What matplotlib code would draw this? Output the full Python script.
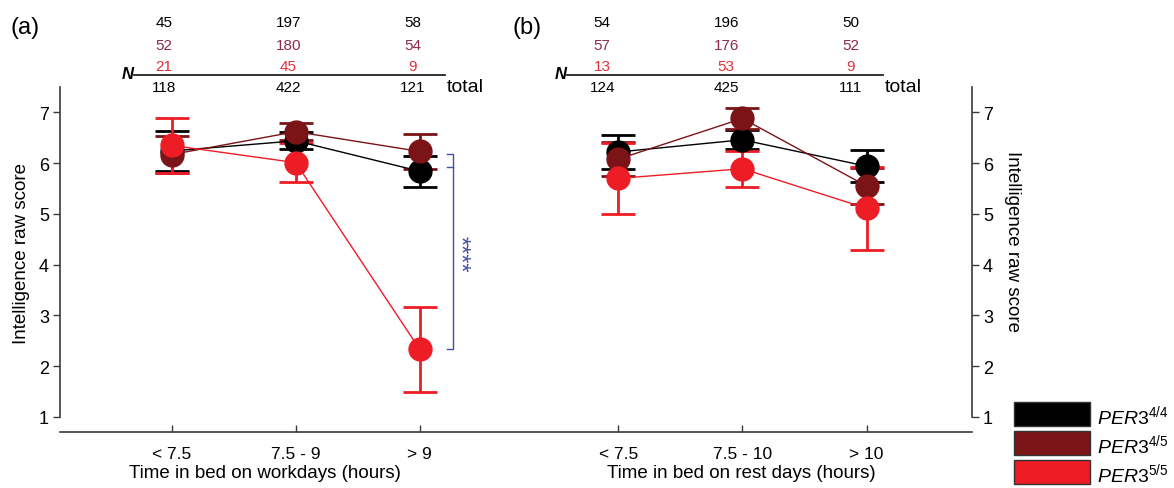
import numpy as np
import matplotlib
matplotlib.use("Agg")
import matplotlib.pyplot as plt
from matplotlib import transforms
from matplotlib.patches import Rectangle

plt.rcParams['font.family'] = ['Liberation Sans', 'DejaVu Sans']
plt.rcParams['mathtext.fontset'] = 'custom'
plt.rcParams['mathtext.it'] = 'Liberation Sans:italic'
plt.rcParams['mathtext.rm'] = 'Liberation Sans'

# ---- data ----
legend_labels = [r'$\mathit{PER3}^{\mathit{4/4}}$', r'$\mathit{PER3}^{\mathit{4/5}}$',
                 r'$\mathit{PER3}^{\mathit{5/5}}$']
colors = ['#000000', '#7a1417', '#ee1c25']
n_colors = ['#000000', '#8e2a50', '#e2303c']

work_labels = ['< 7.5', '7.5 - 9', '> 9']
rest_labels = ['< 7.5', '7.5 - 10', '> 10']

# panel (a): workdays
work_mean = {
    'PER3_44': [6.24, 6.44, 5.84],
    'PER3_45': [6.17, 6.62, 6.23],
    'PER3_55': [6.35, 6.01, 2.33],
}
work_err = {
    'PER3_44': [0.40, 0.17, 0.30],
    'PER3_45': [0.36, 0.17, 0.34],
    'PER3_55': [0.54, 0.38, 0.83],
}
# panel (b): rest days
rest_mean = {
    'PER3_44': [6.22, 6.46, 5.94],
    'PER3_45': [6.08, 6.88, 5.55],
    'PER3_55': [5.70, 5.89, 5.11],
}
rest_err = {
    'PER3_44': [0.34, 0.19, 0.31],
    'PER3_45': [0.34, 0.20, 0.36],
    'PER3_55': [0.70, 0.35, 0.82],
}

work_n = [[45, 197, 58], [52, 180, 54], [21, 45, 9]]
work_total = [118, 422, 121]
rest_n = [[54, 196, 50], [57, 176, 52], [13, 53, 9]]
rest_total = [124, 425, 111]

keys = ['PER3_44', 'PER3_45', 'PER3_55']

# x positions of the categories on one shared axis
xa = np.array([0.0, 1.0, 2.0])
xb = np.array([3.6, 4.6, 5.6])

fig = plt.figure(figsize=(11.74, 4.89), dpi=100)
ax = fig.add_axes([60 / 1174, 1 - 418 / 489, 912 / 1174, 330 / 489])

spine_col = '#3a3a3a'
for xs, means, errs in [(xa, work_mean, work_err), (xb, rest_mean, rest_err)]:
    for k, c in zip(keys, colors):
        ax.errorbar(xs, means[k], yerr=errs[k], color=c, ecolor=c, lw=1.0,
                    elinewidth=2.0, capsize=12.5, capthick=2.0, marker='o',
                    markersize=16.5, markeredgecolor=c, zorder=3)

ax.set_xlim(-0.9, 6.45)
ax.set_ylim(1, 7.5)
ax.spines['top'].set_visible(False)
ax.spines['bottom'].set_position(('outward', 11))
for s in ['left', 'right', 'bottom']:
    ax.spines[s].set_color(spine_col)
    ax.spines[s].set_linewidth(1.2)
ax.tick_params(axis='y', direction='out', length=5, width=1, color=spine_col,
               labelsize=13, left=True, right=True, labelleft=True, labelright=True, pad=3)
ax.tick_params(axis='x', direction='in', length=5, width=1, color=spine_col, pad=10,
               labelsize=12.5)
ax.set_yticks(range(1, 8))
ax.set_xticks(np.concatenate([xa, xb]))
ax.set_xticklabels(work_labels + rest_labels)
ax.set_ylabel('Intelligence raw score', fontsize=13.5, labelpad=6)

fig.text(1013 / 1174, 1 - 242 / 489, 'Intelligence raw score', rotation=270,
         fontsize=13.5, ha='center', va='center')

# x axis titles
fig.text(265 / 1174, 1 - 474 / 489, 'Time in bed on workdays (hours)', fontsize=13.5,
         ha='center', va='center')
fig.text(741 / 1174, 1 - 474 / 489, 'Time in bed on rest days (hours)', fontsize=13.5,
         ha='center', va='center')

# panel labels
fig.text(10 / 1174, 1 - 28 / 489, '(a)', fontsize=17, va='center')
fig.text(512 / 1174, 1 - 28 / 489, '(b)', fontsize=17, va='center')

# N tables above each panel
tr = transforms.blended_transform_factory(ax.transData, fig.transFigure)
row_y = [1 - 23 / 489, 1 - 46 / 489, 1 - 67 / 489]
tot_y = 1 - 88 / 489
line_y = 1 - 76 / 489
for xs, ns, tots, lx in [(xa - 0.06, work_n, work_total, (-0.30, 2.20)),
                         (xb - 0.13, rest_n, rest_total, (3.19, 5.73))]:
    for row, c, yy in zip(ns, n_colors, row_y):
        for x, v in zip(xs, row):
            ax.text(x, yy, str(v), color=c, fontsize=11, ha='center', va='center',
                    transform=tr)
    for x, v in zip(xs, tots):
        ax.text(x, tot_y, str(v), fontsize=11, ha='center', va='center', transform=tr)
    ax.plot(lx, [line_y, line_y], color='#222222', lw=1.3, transform=tr, clip_on=False)
    ax.text(lx[0] - 0.01, line_y + 0.004, 'N', fontsize=12, fontweight='bold',
            fontstyle='italic', ha='right', va='center', transform=tr)
    ax.text(lx[1] + 0.02, tot_y, 'total', fontsize=14, ha='left', va='center',
            transform=tr)

# significance bracket for workdays > 9
bx = 2.0 + (452.7 - 420) / 124
tick = 5.5 / 124
top_v = work_mean['PER3_45'][2] - 0.05
mid_v = work_mean['PER3_44'][2] + 0.08
bot_v = work_mean['PER3_55'][2]
blue = '#44509e'
ax.plot([bx - tick, bx, bx, bx - tick], [top_v, top_v, bot_v, bot_v], color=blue, lw=1.0,
        clip_on=False)
ax.plot([bx - tick, bx], [mid_v, mid_v], color=blue, lw=1.0)
ax.text(bx + 0.05, (top_v + bot_v) / 2 - 0.02, '****', rotation=270, color=blue,
        fontsize=17, ha='center', va='center')

# legend
box_y = [403, 432, 461]
for c, lab, y in zip(colors, legend_labels, box_y):
    fig.patches.append(Rectangle((1014 / 1174, 1 - (y + 24) / 489), 76 / 1174, 24 / 489,
                                 transform=fig.transFigure, facecolor=c,
                                 edgecolor='#333333', lw=1.0))
    fig.text(1097 / 1174, 1 - (y + 13) / 489, lab, fontsize=14, va='center', ha='left')

fig.savefig('out.png', dpi=100)
